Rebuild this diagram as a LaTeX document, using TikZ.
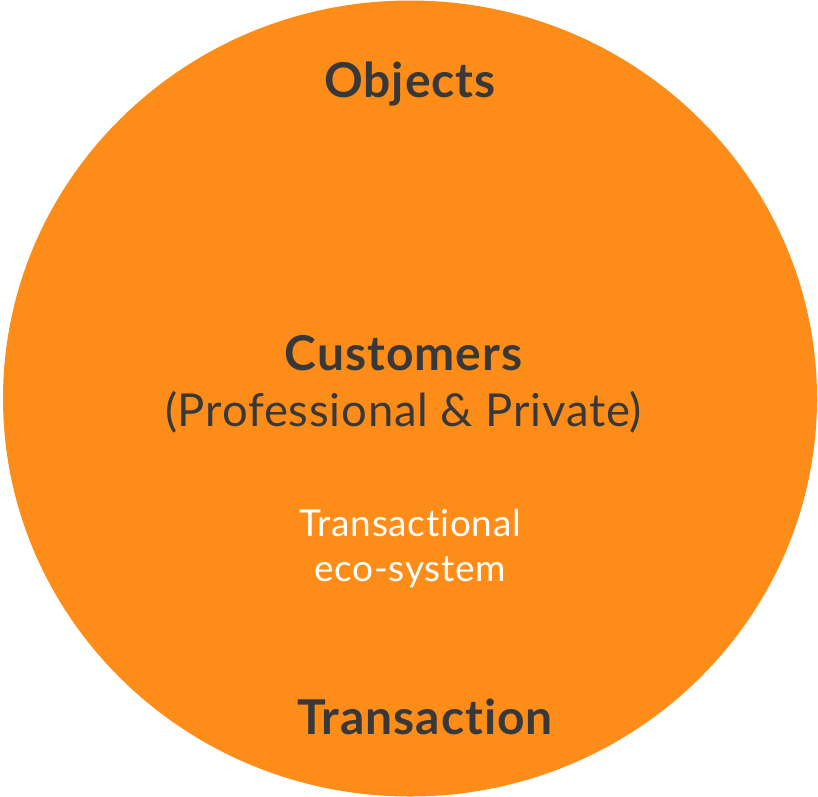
\documentclass[tikz,border=0pt]{standalone}
\usepackage{fontspec}
\setmainfont{Lato}[Ligatures={NoCommon,NoDiscretionary,NoRare}]
\definecolor{disc}{HTML}{FD8D18}
\definecolor{ink}{HTML}{383838}
\begin{document}
\begin{tikzpicture}[x=1pt,y=-1pt,
  heading/.style={font=\fontsize{48}{54}\selectfont\bfseries\addfontfeature{LetterSpace=2}, text=ink, anchor=base, inner sep=0pt},
  subline/.style={font=\fontsize{45.4}{52}\selectfont\addfontfeature{LetterSpace=1.8}, text=ink, anchor=base, inner sep=0pt},
  note/.style={font=\fontsize{37}{42}\selectfont\addfontfeature{LetterSpace=2}, text=white, anchor=base, inner sep=0pt}]
  \useasboundingbox (0,0) rectangle (818,796);
  \begin{scope}
    \clip (0,0) rectangle (818,796);
    \fill[disc] (410,398.5) ellipse [x radius=407, y radius=398];
  \end{scope}
  \node[heading] (objects) at (410,97) {Objects};
  \node[heading] (customers) at (403.5,370) {Customers};
  \node[subline] (kinds) at (403.5,426) {(Professional \& Private)};
  \node[note] (eco1) at (410,536) {Transactional};
  \node[note] (eco2) at (410,581) {eco-system};
  \node[heading] (transaction) at (425,734) {Transaction};
\end{tikzpicture}
\end{document}
